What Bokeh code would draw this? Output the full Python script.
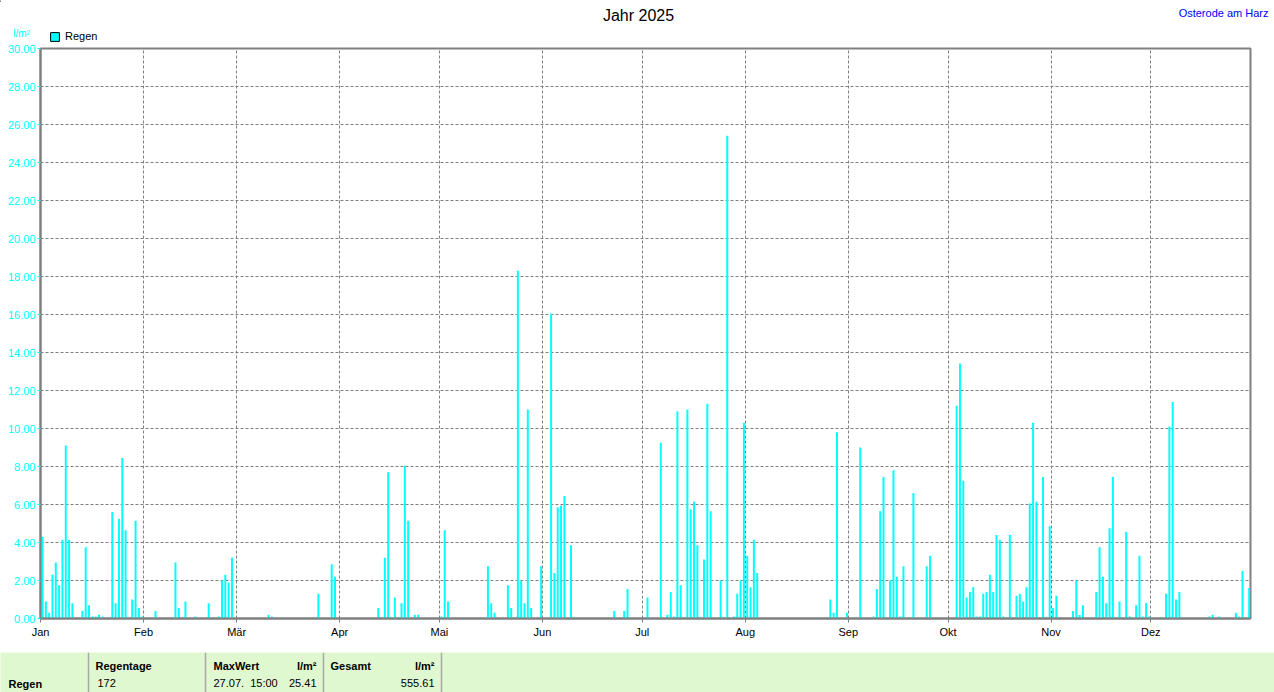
from bokeh.plotting import figure
from bokeh.models import (FixedTicker, Range1d, Legend, LegendItem,
                          PrintfTickFormatter, ColumnDataSource)
from bokeh.embed import file_html
from bokeh.resources import INLINE
from bokeh.core.properties import value

# ---------------- data ----------------
month_starts = [0, 31, 59, 90, 120, 151, 181, 212, 243, 273, 304, 334]
month_labels = ["Jan", "Feb", "Mär", "Apr", "Mai", "Jun", "Jul", "Aug", "Sep", "Okt", "Nov", "Dez"]
y_ticks = list(range(0, 31, 2))

# day of year (0 = 1 Jan) and daily rain in l/m²
rain_day = [0, 1, 2, 3, 4, 5, 6, 7, 8, 9, 12, 13, 14, 15, 16, 17, 18, 21, 22, 23, 24, 25, 27, 28, 29, 30,
            34, 40, 41, 43, 46, 50, 53, 54, 55, 56, 57,
            68, 69, 83, 87, 88,
            101, 103, 104, 106, 108, 109, 110, 112, 113,
            120, 121, 122, 134, 135, 136, 140, 141, 143, 144, 145, 146, 147, 150,
            153, 154, 155, 156, 157, 159, 172, 175, 176,
            182, 186, 188, 189, 190, 191, 192, 194, 195, 196, 197, 199, 200, 201, 204, 206, 208, 209, 210, 211,
            212, 213, 214, 215, 237, 238, 239, 242,
            246, 250, 251, 252, 253, 255, 256, 257, 258, 259, 262, 266, 267,
            275, 276, 277, 278, 279, 280, 281, 282, 283, 284, 285, 286, 287, 288, 289, 291, 293, 294, 295, 296,
            297, 298, 299, 301, 303,
            304, 305, 310, 311, 312, 313, 317, 318, 319, 320, 321, 322, 324, 326, 327, 329, 330, 331, 332, 333,
            338, 339, 340, 341, 342, 351, 352, 354, 359, 360, 361, 363]
rain_mm = [4.3, 0.9, 0.3, 2.3, 2.95, 1.75, 4.15, 9.1, 4.15, 0.8, 0.4, 3.75, 0.7, 0.1, 0.1, 0.2, 0.1, 5.6, 0.8, 5.25, 8.45, 4.65, 1.0, 5.15, 0.55, 0.1,
           0.4, 2.95, 0.55, 0.9, 0.1, 0.8, 0.1, 2.0, 2.3, 1.9, 3.2,
           0.2, 0.1, 1.3, 2.85, 2.2,
           0.55, 3.2, 7.7, 1.1, 0.8, 8.05, 5.15, 0.2, 0.2,
           0.1, 4.65, 0.9, 2.75, 0.8, 0.3, 1.75, 0.55, 18.3, 2.0, 0.8, 11.0, 0.55, 2.75,
           16.05, 2.4, 5.85, 5.95, 6.45, 3.85, 0.4, 0.4, 1.55,
           1.1, 9.25, 0.2, 1.4, 0.1, 10.9, 1.75, 11.0, 5.75, 6.15, 3.85, 3.1, 11.3, 5.65, 2.0, 25.41, 0.1, 1.3, 2.0, 10.3,
           3.3, 1.65, 4.15, 2.4, 1.0, 0.3, 9.8, 0.3,
           9.0, 0.1, 1.55, 5.65, 7.45, 2.0, 7.8, 2.2, 0.1, 2.75, 6.6, 2.75, 3.3,
           11.2, 13.42, 7.25, 1.1, 1.4, 1.65, 0.1, 0.1, 1.3, 1.4, 2.3, 1.4, 4.4, 4.15, 0.1, 4.4, 1.2, 1.3, 0.9, 1.65,
           6.05, 10.3, 6.15, 7.45, 4.85,
           0.55, 1.2, 0.4, 2.0, 0.2, 0.7, 1.4, 3.75, 2.2, 0.8, 4.75, 7.45, 0.9, 4.55, 0.1, 0.7, 3.3, 0.1, 0.8, 0.1,
           1.3, 10.1, 11.4, 1.0, 1.4, 0.1, 0.2, 0.1, 0.3, 0.1, 2.5, 1.6]

title_text = "Jahr 2025"
station = "Osterode am Harz"
unit = "l/m²"
series_name = "Regen"
regentage = "172"
max_time = "27.07.\u00a0\u00a015:00"
max_value = "%.2f" % max(rain_mm)
gesamt = "555.61"

FONT = "Liberation Sans"
CYAN = "#00FFFF"
GRAY = "#808080"
W = 1274

# ---------------- header strip (title, station, unit, legend) ----------------
H1 = 42
h = figure(width=W, height=H1, x_range=Range1d(0, W), y_range=Range1d(H1, 0),
           output_backend="svg", toolbar_location=None,
           x_axis_location=None, y_axis_location=None, min_border=0)
h.outline_line_color = None
h.background_fill_color = "white"
h.border_fill_color = "white"
h.xgrid.visible = False
h.ygrid.visible = False
h.text(x=[638], y=[15], text=[title_text], text_font=value(FONT), text_font_size="16px",
       text_align="center", text_baseline="middle", text_color="black")
h.text(x=[1268], y=[12], text=[station], text_font=value(FONT), text_font_size="11px",
       text_align="right", text_baseline="middle", text_color="#0000FF")
h.text(x=[21], y=[33], text=[unit], text_font=value(FONT), text_font_size="10px",
       text_align="center", text_baseline="middle", text_color=CYAN)
# legend swatch: a renderer whose only bar lies outside the visible range
swatch = h.vbar(x=[-50], top=[1], width=1, fill_color=CYAN, line_color="black", line_width=1)
legend = Legend(items=[LegendItem(label=series_name, renderers=[swatch])],
                location=(49, 0), orientation="horizontal",
                glyph_width=11, glyph_height=11, label_height=11, label_width=20,
                label_standoff=5, padding=0, margin=0, spacing=0,
                background_fill_alpha=0, border_line_color=None,
                label_text_font=FONT, label_text_font_size="11px", label_text_color="black",
                label_text_baseline="middle")
h.add_layout(legend, "center")

# ---------------- main chart ----------------
p = figure(width=W, height=610, x_range=Range1d(0, 364), y_range=Range1d(0, 30),
           output_backend="svg", toolbar_location=None,
           min_border_left=40, min_border_right=24, min_border_top=6, min_border_bottom=34)
p.background_fill_color = "white"
p.border_fill_color = "white"
p.outline_line_color = GRAY
p.outline_line_width = 2

src = ColumnDataSource(dict(x=[d + 0.6 for d in rain_day], top=rain_mm))
p.vbar(x="x", top="top", width=0.6, source=src, fill_color=CYAN, line_color=None)

xa = p.xaxis[0]
xa.ticker = FixedTicker(ticks=month_starts)
xa.major_label_overrides = {m: l for m, l in zip(month_starts, month_labels)}
xa.minor_tick_line_color = None
xa.major_tick_line_color = GRAY
xa.major_tick_out = 4
xa.major_tick_in = 0
xa.axis_line_color = GRAY
xa.axis_line_width = 2
xa.major_label_text_font = FONT
xa.major_label_text_font_size = "11px"
xa.major_label_text_color = "black"
xa.major_label_standoff = 3

ya = p.yaxis[0]
ya.ticker = FixedTicker(ticks=y_ticks)
ya.formatter = PrintfTickFormatter(format="%.2f")
ya.minor_tick_line_color = None
ya.major_tick_line_color = CYAN
ya.major_tick_out = 3
ya.major_tick_in = 0
ya.axis_line_color = GRAY
ya.axis_line_width = 2
ya.major_label_text_font = FONT
ya.major_label_text_font_size = "11px"
ya.major_label_text_color = CYAN
ya.major_label_standoff = 2

for g in (p.xgrid[0], p.ygrid[0]):
    g.grid_line_color = GRAY
    g.grid_line_dash = "3 2"
    g.grid_line_width = 1

# ---------------- bottom table ----------------
H2 = 40
t = figure(width=W, height=H2, x_range=Range1d(0, W), y_range=Range1d(H2, 0),
           output_backend="svg", toolbar_location=None,
           x_axis_location=None, y_axis_location=None, min_border=0)
t.background_fill_color = "#E0F8D0"
t.border_fill_color = "#E0F8D0"
t.outline_line_color = None
t.xgrid.visible = False
t.ygrid.visible = False

sep_x = [88, 205, 323, 441]
t.segment(x0=sep_x, x1=sep_x, y0=[0] * 4, y1=[H2] * 4, line_color="#A8A8A8", line_width=1.5)

hdr_left = ["Regentage", "MaxWert", "Gesamt"]
t.text(x=[95, 213, 330], y=[13] * 3, text=hdr_left, text_font=value(FONT), text_font_style="bold",
       text_font_size="11px", text_baseline="middle", text_align="left", text_color="black")
t.text(x=[316, 434], y=[13, 13], text=[unit, unit], text_font=value(FONT), text_font_style="bold",
       text_font_size="11px", text_baseline="middle", text_align="right", text_color="black")
t.text(x=[8], y=[31], text=[series_name], text_font=value(FONT), text_font_style="bold",
       text_font_size="11px", text_baseline="middle", text_align="left", text_color="black")
t.text(x=[97, 213], y=[30, 30], text=[regentage, max_time], text_font=value(FONT),
       text_font_size="11px", text_baseline="middle", text_align="left", text_color="black")
t.text(x=[316, 434], y=[30, 30], text=[max_value, gesamt], text_font=value(FONT),
       text_font_size="11px", text_baseline="middle", text_align="right", text_color="black")

# three independent roots stacked on the page (no frame alignment between them)
open("out.html", "w").write(file_html([h, p, t], INLINE))
